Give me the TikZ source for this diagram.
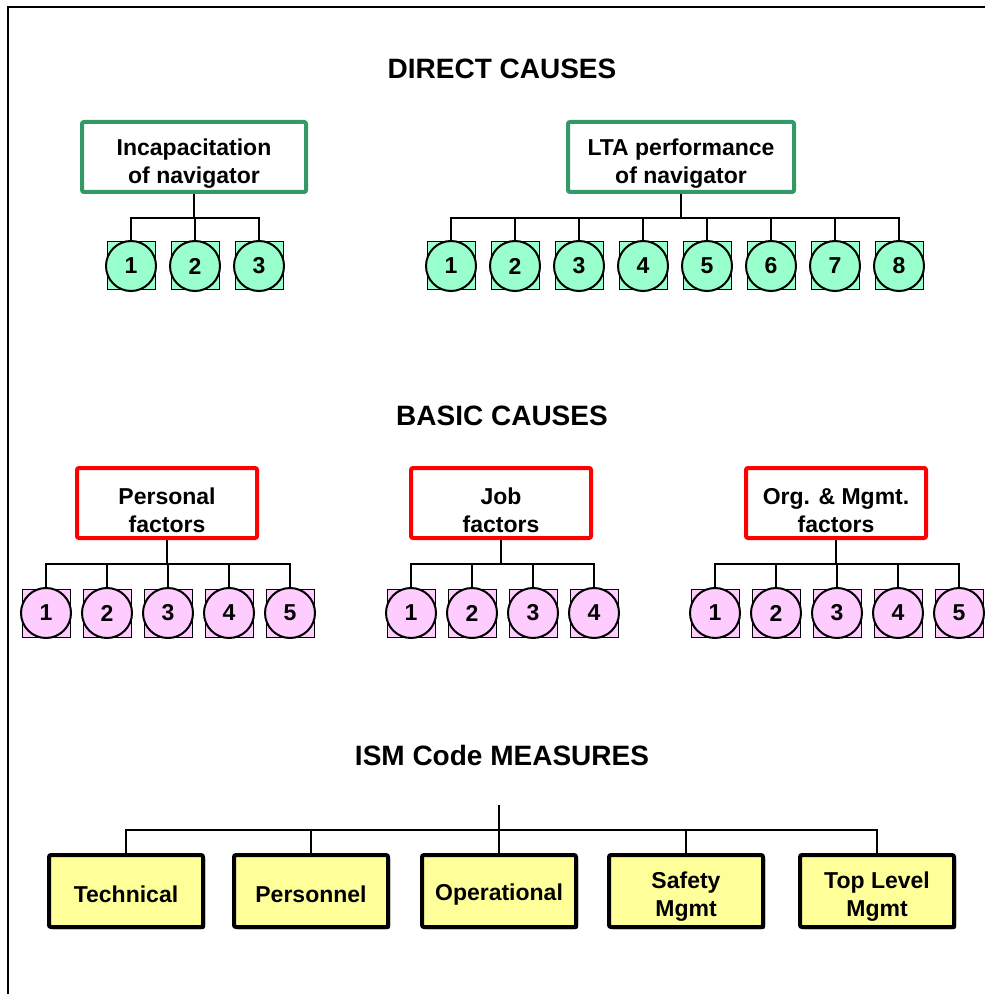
\documentclass[tikz,border=0pt]{standalone}
\usepackage{fontspec}
\setmainfont{Liberation Sans}
\usepackage{tikz}
\usetikzlibrary{positioning,shadows}
\definecolor{navgreen}{HTML}{339966}
\definecolor{mint}{HTML}{99FFCC}
\definecolor{lilac}{HTML}{FFCCFF}
\definecolor{paleyellow}{HTML}{FFFF99}
\newcommand{\topstrut}[1]{\rule{0pt}{#1}}

\begin{document}
\begin{tikzpicture}[
  x=0.5pt,y=-0.5pt,
  every node/.style={font=\bfseries\fontsize{11.5}{14}\selectfont},
  headline/.style={font=\bfseries\fontsize{14}{16}\selectfont},
  dcbox/.style={draw=navgreen,line width=2pt,rounded corners=1pt,minimum width=112pt,minimum height=35pt,align=center,inner sep=0pt},
  bcbox/.style={dcbox,draw=red,minimum width=90pt},
  ismbox/.style={draw,fill=paleyellow,line width=2pt,rounded corners=1pt,minimum width=77pt,minimum height=36pt,align=center,inner sep=0pt,
    drop shadow={shadow xshift=1pt,shadow yshift=-1pt,fill=black,opacity=1}},
  numsq/.style={draw,line width=0.5pt,minimum size=24pt,inner sep=0pt},
  numc/.style={draw,circle,line width=1pt,minimum size=25pt,inner sep=0pt},
  link/.style={line width=1pt}
]
\useasboundingbox (0,0) rectangle (985,994);
\draw[line width=1pt] (8,994) -- (8,7) -- (985,7);

% direct causes
\node[headline] (dctitle) at (502,69) {DIRECT CAUSES};
\node[dcbox] (incap) at (194,157) {\topstrut{15.4pt}Incapacitation\\of navigator};
\node[dcbox,minimum width=113pt] (lta) at (681,157) {\topstrut{15.4pt}LTA performance\\of navigator};
\draw[link] (incap.south) -- ++(0,24) coordinate (incapbar);
\draw[link] (lta.south) -- ++(0,24) coordinate (ltabar);
\foreach \i in {1,...,3} {
  \node[numsq,fill=mint] (inc\i) at ({131+64*(\i-1)},266) {};
  \draw[link] (inc\i.north) |- (incapbar);
  \node[numc,fill=mint] at (inc\i) {\i};
}
\foreach \i in {1,...,8} {
  \node[numsq,fill=mint] (lta\i) at ({451+64*(\i-1)},266) {};
  \draw[link] (lta\i.north) |- (ltabar);
  \node[numc,fill=mint] at (lta\i) {\i};
}

% basic causes
\node[headline] (bctitle) at (502,416) {BASIC CAUSES};
\node[bcbox] (pers) at (167,503) {\topstrut{15.4pt}Personal\\factors};
\node[bcbox] (job) at (501,503) {\topstrut{15.4pt}Job\\factors};
\node[bcbox] (org) at (836,503) {\topstrut{15.4pt}Org. \& Mgmt.\\factors};
\draw[link] (pers.south) -- ++(0,24) coordinate (persbar);
\draw[link] (job.south) -- ++(0,24) coordinate (jobbar);
\draw[link] (org.south) -- ++(0,24) coordinate (orgbar);
\foreach \i in {1,...,5} {
  \node[numsq,fill=lilac] (pers\i) at ({46+61*(\i-1)},613) {};
  \draw[link] (pers\i.north) |- (persbar);
  \node[numc,fill=lilac] at (pers\i) {\i};
}
\foreach \i in {1,...,4} {
  \node[numsq,fill=lilac] (job\i) at ({411+61*(\i-1)},613) {};
  \draw[link] (job\i.north) |- (jobbar);
  \node[numc,fill=lilac] at (job\i) {\i};
}
\foreach \i in {1,...,5} {
  \node[numsq,fill=lilac] (org\i) at ({715+61*(\i-1)},613) {};
  \draw[link] (org\i.north) |- (orgbar);
  \node[numc,fill=lilac] at (org\i) {\i};
}

% ISM code measures
\node[headline] (ismtitle) at (502,755) {ISM Code MEASURES};
\coordinate (ismtop) at (499,805);
\coordinate (ismbar) at (499,830);
\draw[link] (ismtop) -- (ismbar);
\node[ismbox] (tech) at (126,891) {\topstrut{11.4pt}Technical};
\node[ismbox] (staff) at (311,891) {\topstrut{11.4pt}Personnel};
\node[ismbox] (oper) at (499,891) {\topstrut{11.4pt}Operational};
\node[ismbox] (safety) at (686,891) {\topstrut{13.9pt}Safety\\Mgmt};
\node[ismbox] (toplvl) at (877,891) {\topstrut{13.9pt}Top Level\\Mgmt};
\foreach \b in {tech,staff,oper,safety,toplvl}
  \draw[link] (\b.north) |- (ismbar);
\end{tikzpicture}
\end{document}
